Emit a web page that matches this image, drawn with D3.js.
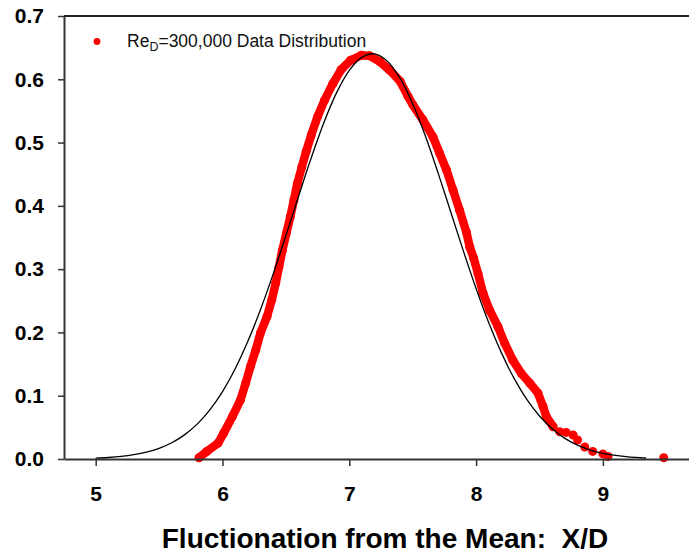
<!DOCTYPE html>
<html>
<head>
<meta charset="utf-8">
<script src="https://cdn.jsdelivr.net/npm/d3@7"></script>
<style>
  html, body { margin: 0; padding: 0; background: #fff; }
  svg { display: block; font-family: "Liberation Sans", Arial, sans-serif; }
</style>
</head>
<body>
<svg id="chart" width="689" height="554"></svg>
<script>
// ---- Data ----
const xTicks = [5, 6, 7, 8, 9];
const yTicks = [0.0, 0.1, 0.2, 0.3, 0.4, 0.5, 0.6, 0.7];

// Measured distribution (red dots)
const dataX = [5.815, 5.877, 5.965, 6.010, 6.078, 6.141, 6.183, 6.220, 6.262, 6.299,
               6.351, 6.388, 6.420, 6.446, 6.472, 6.504, 6.535, 6.563, 6.590, 6.625,
               6.660, 6.700, 6.750, 6.805, 6.870, 6.935, 7.010, 7.095, 7.160, 7.240,
               7.320, 7.400, 7.463, 7.500, 7.580, 7.660, 7.713, 7.766, 7.818, 7.870,
               7.924, 7.950, 7.980, 8.015, 8.055, 8.107, 8.173, 8.225, 8.290, 8.357,
               8.423, 8.488, 8.528, 8.554, 8.607, 8.660, 8.710, 8.765, 8.800, 8.857,
               8.920, 9.000, 9.040, 9.480];
const dataY = [0.002, 0.012, 0.025, 0.041, 0.067, 0.093, 0.120, 0.146, 0.172, 0.199,
               0.225, 0.251, 0.278, 0.304, 0.330, 0.357, 0.383, 0.409, 0.435, 0.461,
               0.486, 0.512, 0.541, 0.567, 0.593, 0.615, 0.630, 0.638, 0.637, 0.628,
               0.614, 0.597, 0.573, 0.560, 0.536, 0.509, 0.483, 0.457, 0.425, 0.393,
               0.358, 0.335, 0.318, 0.293, 0.262, 0.235, 0.209, 0.183, 0.156, 0.135,
               0.120, 0.104, 0.083, 0.067, 0.051, 0.043, 0.042, 0.038, 0.030, 0.019,
               0.012, 0.008, 0.004, 0.002];
const bandEndX = 8.607; // dots beyond this are isolated

// Reference curve (black line)
const curveX = [5.0, 5.1, 5.2, 5.3, 5.4, 5.5, 5.6, 5.7, 5.8, 5.9,
                6.0, 6.1, 6.2, 6.3, 6.4, 6.5, 6.6, 6.7, 6.8, 6.9,
                7.0, 7.1, 7.2, 7.3, 7.4, 7.5, 7.6, 7.7, 7.8, 7.9,
                8.0, 8.1, 8.2, 8.3, 8.4, 8.5, 8.6, 8.7, 8.8, 8.9,
                9.0, 9.1, 9.2, 9.3, 9.34];
const curveY = [0.0014, 0.0024, 0.0041, 0.0068, 0.0108, 0.0169, 0.0257, 0.0381, 0.0551, 0.0776,
                0.1065, 0.1426, 0.1859, 0.2362, 0.2925, 0.3530, 0.4152, 0.4759, 0.5317, 0.5789,
                0.6142, 0.6351, 0.6401, 0.6286, 0.6017, 0.5613, 0.5103, 0.4521, 0.3903, 0.3284,
                0.2693, 0.2152, 0.1677, 0.1273, 0.0941, 0.0679, 0.0477, 0.0326, 0.0218, 0.0142,
                0.0090, 0.0056, 0.0033, 0.0020, 0.0016];

const legendLabel = ["Re", "D", "=300,000 Data Distribution"];
const xTitle = "Fluctionation from the Mean:  X/D";

// ---- Drawing ----
const svg = d3.select("#chart");
const mLeft = 64, mTop = 16, mBottom = 459, mRight = 698;

const x = d3.scaleLinear().domain([4.75, 9.75]).range([mLeft, mRight]);
const y = d3.scaleLinear().domain([0, 0.7]).range([mBottom, mTop]);

const pts = dataX.map((d, i) => ({ x: d, y: dataY[i] }));
const curve = curveX.map((d, i) => ({ x: d, y: curveY[i] }));

// Red band (measured points)
const line = d3.line().x(d => x(d.x)).y(d => y(d.y));
svg.append("path")
  .datum(pts.filter(d => d.x <= bandEndX))
  .attr("d", line.curve(d3.curveLinear))
  .attr("fill", "none")
  .attr("stroke", "#ff0000")
  .attr("stroke-width", 8.5)
  .attr("stroke-linejoin", "round")
  .attr("stroke-linecap", "round");

svg.append("g").selectAll("circle")
  .data(pts)
  .join("circle")
  .attr("cx", d => x(d.x))
  .attr("cy", d => y(d.y))
  .attr("r", 4.5)
  .attr("fill", "#ff0000");

// Black reference curve
svg.append("path")
  .datum(curve)
  .attr("d", d3.line().x(d => x(d.x)).y(d => y(d.y)).curve(d3.curveCatmullRom))
  .attr("fill", "none")
  .attr("stroke", "#000")
  .attr("stroke-width", 1.3);

// Axes
const yAxis = svg.append("g")
  .attr("transform", `translate(${mLeft},0)`)
  .call(d3.axisLeft(y).tickValues(yTicks).tickFormat(d3.format(".1f"))
        .tickSize(6).tickPadding(14).tickSizeOuter(0));
const xAxis = svg.append("g")
  .attr("transform", `translate(0,${mBottom})`)
  .call(d3.axisBottom(x).tickValues(xTicks).tickFormat(d3.format("d"))
        .tickSize(7).tickPadding(20).tickSizeOuter(0));

[yAxis, xAxis].forEach(g => {
  g.selectAll("path.domain").attr("stroke", "#333").attr("stroke-width", 2);
  g.selectAll(".tick line").attr("stroke", "#333").attr("stroke-width", 1.5);
  g.selectAll(".tick text")
    .attr("fill", "#000")
    .style("font-family", "'Liberation Sans', Arial, sans-serif")
    .style("font-size", "21px")
    .style("font-weight", "bold");
});

// Top frame line
svg.append("line")
  .attr("x1", mLeft).attr("x2", mRight)
  .attr("y1", y(0.7)).attr("y2", y(0.7))
  .attr("stroke", "#222").attr("stroke-width", 2);

// Legend
svg.append("circle")
  .attr("cx", 97).attr("cy", 41.5).attr("r", 3.4).attr("fill", "#ff0000");
const lt = svg.append("text")
  .attr("x", 127).attr("y", 46.5)
  .style("font-size", "17.5px").attr("fill", "#111");
lt.append("tspan").text(legendLabel[0]);
lt.append("tspan").attr("dy", 4).style("font-size", "12.5px").text(legendLabel[1]);
lt.append("tspan").attr("dy", -4).text(legendLabel[2]);

// X axis title
svg.append("text")
  .attr("x", 385).attr("y", 548)
  .attr("text-anchor", "middle")
  .style("font-size", "28px")
  .style("font-weight", "bold")
  .style("white-space", "pre")
  .attr("fill", "#000")
  .text(xTitle);
</script>
</body>
</html>
